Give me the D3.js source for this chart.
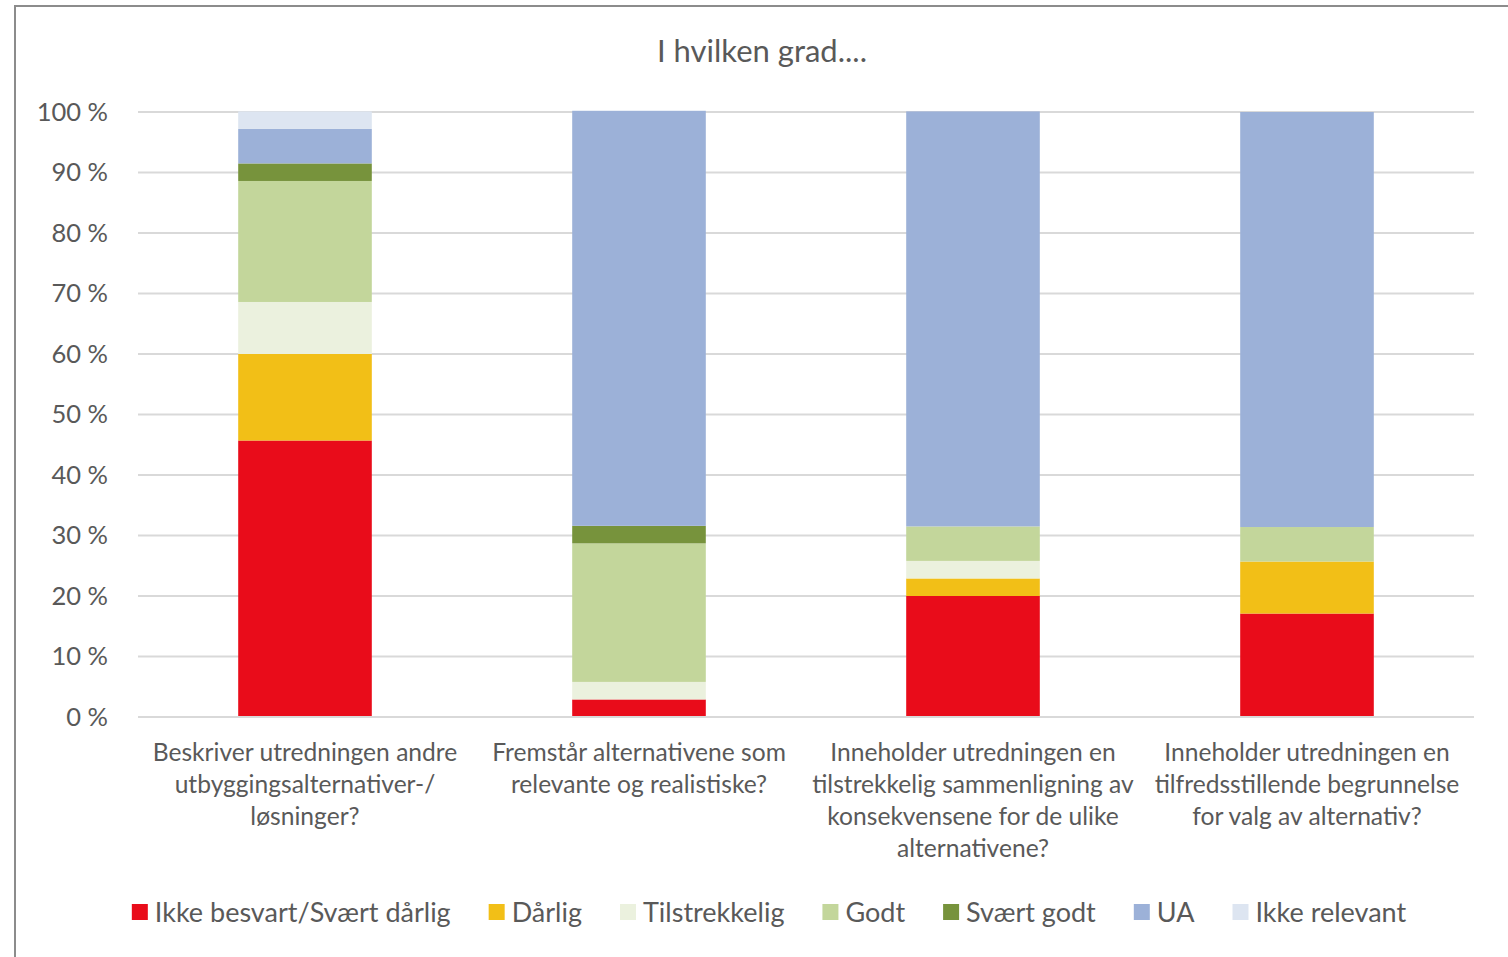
<!DOCTYPE html>
<html><head><meta charset="utf-8">
<script src="https://cdn.jsdelivr.net/npm/d3@7"></script>
<style>
html,body{margin:0;padding:0;background:#fff;}
svg text{font-family:Lato,"Open Sans",sans-serif;fill:#595959;}
</style></head>
<body><svg id="c" width="1508" height="957"></svg>
<script>
const title = "I hvilken grad....";
const categories = [
  ["Beskriver utredningen andre","utbyggingsalternativer-/","løsninger?"],
  ["Fremstår alternativene som","relevante og realistiske?"],
  ["Inneholder utredningen en","tilstrekkelig sammenligning av","konsekvensene for de ulike","alternativene?"],
  ["Inneholder utredningen en","tilfredsstillende begrunnelse","for valg av alternativ?"]
];
const seriesNames = ["Ikke besvart/Svært dårlig","Dårlig","Tilstrekkelig","Godt","Svært godt","UA","Ikke relevant"];
const seriesColors = ["#E90C1A","#F2BF17","#EBF1DE","#C3D69B","#77933C","#9CB1D8","#DDE5F1"];
// percentage values per series, one per category
const ikkeBesvart = [45.7, 2.9, 20.0, 17.1];
const darlig      = [14.3, 0.0, 2.9, 8.6];
const tilstrekkelig = [8.6, 2.9, 2.9, 0.0];
const godt        = [20.0, 22.9, 5.7, 5.7];
const sværtGodt   = [2.9, 2.9, 0.0, 0.0];
const ua          = [5.7, 68.6, 68.6, 68.6];
const ikkeRelevant = [2.9, 0.0, 0.0, 0.0];
const yTicks = [0,10,20,30,40,50,60,70,80,90,100];

const seriesValues = [ikkeBesvart, darlig, tilstrekkelig, godt, sværtGodt, ua, ikkeRelevant];
const rows = categories.map((c,i)=>{const r={i}; seriesNames.forEach((s,j)=>r[s]=seriesValues[j][i]); return r;});
const stacked = d3.stack().keys(seriesNames)(rows);

const svg = d3.select("#c");
svg.append("rect").attr("x",15).attr("y",6).attr("width",1520).attr("height",1000)
  .attr("fill","none").attr("stroke","#8c8c8c").attr("stroke-width",2);

const pL=138, pR=1474, pT=112, pB=717;
const x = d3.scaleBand().domain(d3.range(categories.length)).range([pL,pR]).padding(0);
const y = d3.scaleLinear().domain([0,100]).range([pB,pT]);
const bw = x.bandwidth()*0.4;

svg.append("text").attr("x",762).attr("y",62).attr("text-anchor","middle")
  .style("font-size","31px").text(title);

svg.append("g").selectAll("line").data(yTicks).join("line")
  .attr("x1",pL).attr("x2",pR).attr("y1",d=>y(d)).attr("y2",d=>y(d))
  .attr("stroke","#d9d9d9").attr("stroke-width",2);

const yAxis = svg.append("g").attr("transform",`translate(${pL},0)`)
  .call(d3.axisLeft(y).tickValues(yTicks).tickFormat(d=>d+" %").tickSize(0).tickPadding(30));
yAxis.select(".domain").remove();
yAxis.selectAll("text").style("font-size","25.5px").attr("font-family",null).attr("fill","#595959");

svg.append("g").selectAll("g").data(stacked).join("g").attr("fill",(d,i)=>seriesColors[i])
  .selectAll("rect").data(d=>d).join("rect")
  .attr("x",(d,i)=>x(i)+(x.bandwidth()-bw)/2).attr("width",bw)
  .attr("y",d=>y(d[1])).attr("height",d=>y(d[0])-y(d[1]));

svg.append("line").attr("x1",pL).attr("x2",pR).attr("y1",y(0)).attr("y2",y(0))
  .attr("stroke","#d9d9d9").attr("stroke-width",2);

const xl = svg.append("g");
categories.forEach((lines,i)=>{
  const t = xl.append("text").attr("text-anchor","middle").style("font-size","24.6px");
  lines.forEach((ln,k)=>t.append("tspan").attr("x",x(i)+x.bandwidth()/2).attr("y",761+k*32).text(ln));
});

const lg = svg.append("g");
let cx = 0;
seriesNames.forEach((s,i)=>{
  const g = lg.append("g").attr("transform",`translate(${cx},0)`);
  g.append("rect").attr("x",0).attr("y",-8).attr("width",16).attr("height",16).attr("fill",seriesColors[i]);
  const t = g.append("text").attr("x",23).attr("y",10).style("font-size","27px").text(s);
  cx += 23 + t.node().getComputedTextLength() + 38;
});
const total = cx - 38;
lg.attr("transform",`translate(${(128+1410)/2 - total/2},912)`);
</script></body></html>
